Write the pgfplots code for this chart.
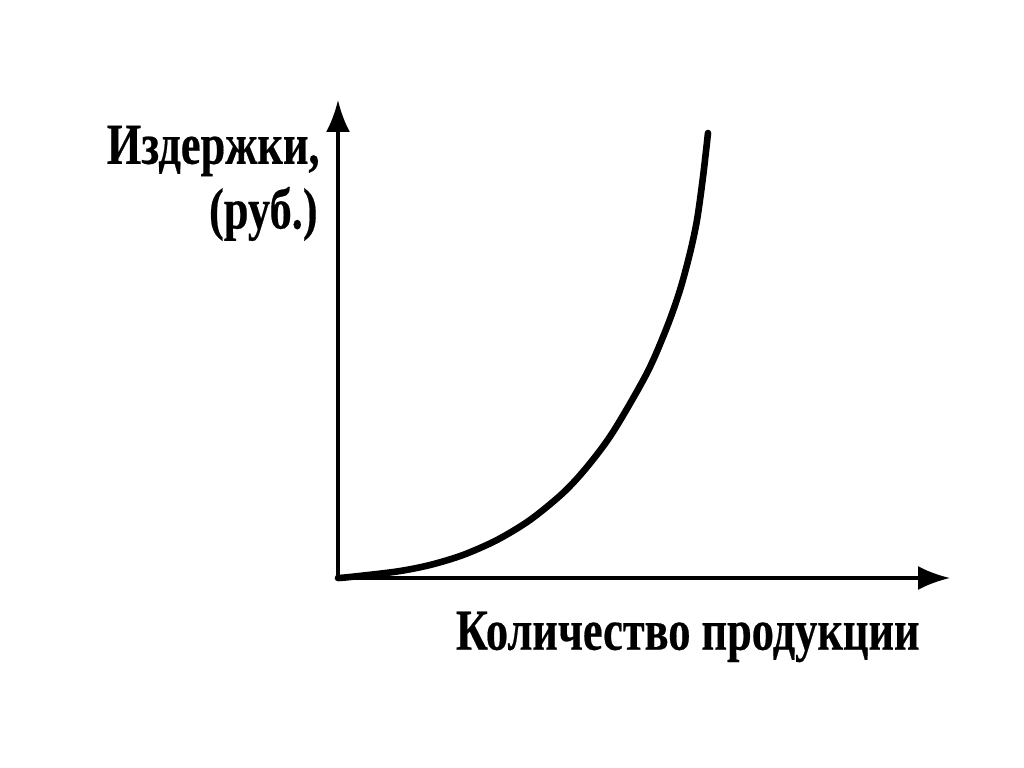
\documentclass[border=0pt]{standalone}
\usepackage{fontspec}
\setmainfont{Liberation Serif}
\newfontfamily\lab[FakeStretch=0.765, UprightFont=* Bold, FakeBold=0.35]{Liberation Serif}
\usepackage{pgfplots}
\pgfplotsset{compat=1.18}
\usetikzlibrary{arrows.meta}
\begin{document}
\begin{tikzpicture}
\path[use as bounding box] (0,0) rectangle (512pt,383.5pt);
\begin{axis}[
  at={(169pt,94.5pt)}, anchor=origin,
  x=0.5pt, y=0.5pt,
  xmin=0, xmax=612, ymin=0, ymax=478,
  axis lines=left,
  axis line style={line width=1.6pt, -{Latex[length=16pt,width=12pt]}},
  xtick=\empty, ytick=\empty,
  clip=false,
]
\addplot[black, line width=3.3pt, smooth, line cap=round] coordinates {
(0,0) (12,1) (59,6.5) (92,13) (125,23) (159,38) (192,58) (225,85) (249,111) (275,146) (309,205) (329,251) (342,288) (352,325) (359,358) (365,401) (370,445)
};
\node[anchor=east, inner sep=0pt, font=\lab\fontsize{29pt}{30pt}\selectfont] at (axis cs:582,-59) {Количество продукции};
\node[anchor=east, inner sep=0pt, font=\lab\fontsize{29pt}{30pt}\selectfont] at (axis cs:-18,427) {Издержки,};
\node[anchor=east, inner sep=0pt, font=\lab\fontsize{29pt}{30pt}\selectfont] at (axis cs:-20,364) {(руб.)};
\end{axis}
\end{tikzpicture}
\end{document}
